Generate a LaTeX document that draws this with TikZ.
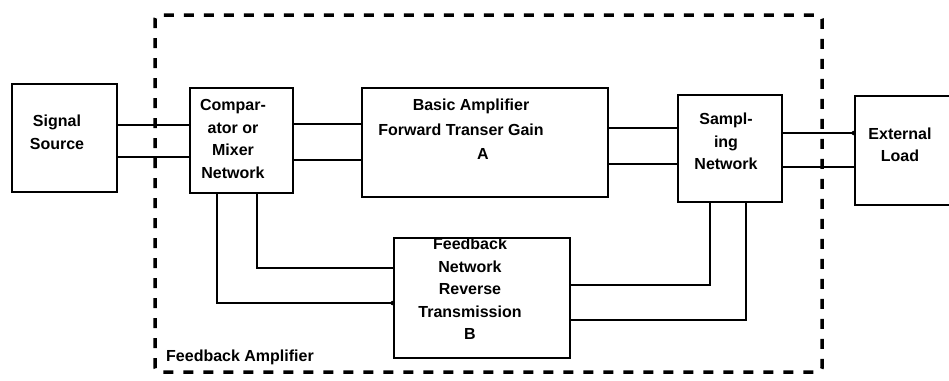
\documentclass[tikz,border=0pt]{standalone}
\usepackage{fontspec}
\setmainfont{Liberation Sans}
\begin{document}
\begin{tikzpicture}[x=1pt,y=-1pt,
  box/.style={draw,line width=2.6pt,inner sep=0pt},
  wire/.style={line width=2.2pt},
  txt/.style={font=\fontsize{16}{22.5}\selectfont\bfseries,align=center,inner sep=0pt},
  dashbox/.style={line width=3.5pt,dash pattern=on 10pt off 10pt,rounded corners=4pt},
  dot/.style={circle,fill,inner sep=0pt,minimum size=4.5pt}]
\useasboundingbox[fill=white] (0,0) rectangle (949,380);
% boxes
\node[box,minimum width=105pt,minimum height=108pt] (src) at (64.5,138) {};
\node[box,minimum width=103pt,minimum height=105pt] (cmp) at (241.5,140.5) {};
\node[box,minimum width=246pt,minimum height=109pt] (amp) at (485,142.5) {};
\node[box,minimum width=104pt,minimum height=107pt] (smp) at (730,148.5) {};
\node[box,minimum width=110pt,minimum height=109pt] (ext) at (910,150.5) {};
\node[box,minimum width=176pt,minimum height=120pt] (fb) at (482,298) {};
% dashed enclosure
\draw[dashbox] (155,372) -- (155,15) -- (822,15) -- (822,372) -- cycle;
% texts
\node[txt] (srct) at (57,132.5) {Signal\\Source};
\node[txt] (cmpt) at (233,139) {Compar-\\ator or\\Mixer\\Network};
\node[txt] (ampa) at (471,106) {Basic Amplifier};
\node[txt] (ampb) at (461,130) {Forward Transer Gain};
\node[txt] (ampc) at (483,154) {A};
\node[txt] (smpt) at (726,141.5) {Sampl-\\ing\\Network};
\node[txt] (extt) at (900,145) {External\\Load};
\node[txt] (fbt) at (470,289) {Feedback\\Network\\Reverse\\Transmission\\B};
\node[txt,anchor=west] (fat) at (166,357) {Feedback Amplifier};
% helper coordinates
\coordinate (ya) at (0,125);
\coordinate (yb) at (0,157);
\coordinate (yc) at (0,124);
\coordinate (yd) at (0,160);
\coordinate (ye) at (0,128);
\coordinate (yf) at (0,164);
\coordinate (yg) at (0,133);
\coordinate (yh) at (0,167);
\coordinate (yi) at (0,268);
\coordinate (yj) at (0,303);
\coordinate (yk) at (0,285);
\coordinate (yl) at (0,320);
\coordinate (xa) at (257,0);
\coordinate (xb) at (217,0);
\coordinate (xc) at (710,0);
\coordinate (xd) at (746,0);
% forward path
\draw[wire] (src.east |- ya) -- (cmp.west |- ya);
\draw[wire] (src.east |- yb) -- (cmp.west |- yb);
\draw[wire] (cmp.east |- yc) -- (amp.west |- yc);
\draw[wire] (cmp.east |- yd) -- (amp.west |- yd);
\draw[wire] (amp.east |- ye) -- (smp.west |- ye);
\draw[wire] (amp.east |- yf) -- (smp.west |- yf);
\draw[wire] (smp.east |- yg) -- (ext.west |- yg);
\draw[wire] (smp.east |- yh) -- (ext.west |- yh);
% feedback path
\draw[wire] (cmp.south -| xa) |- (fb.west |- yi);
\draw[wire] (cmp.south -| xb) |- (fb.west |- yj);
\draw[wire] (smp.south -| xc) |- (fb.east |- yk);
\draw[wire] (smp.south -| xd) |- (fb.east |- yl);
% terminal dots
\node[dot] (d1) at (fb.west |- yj) {};
\node[dot] (d2) at (ext.west |- yg) {};
\end{tikzpicture}
\end{document}
